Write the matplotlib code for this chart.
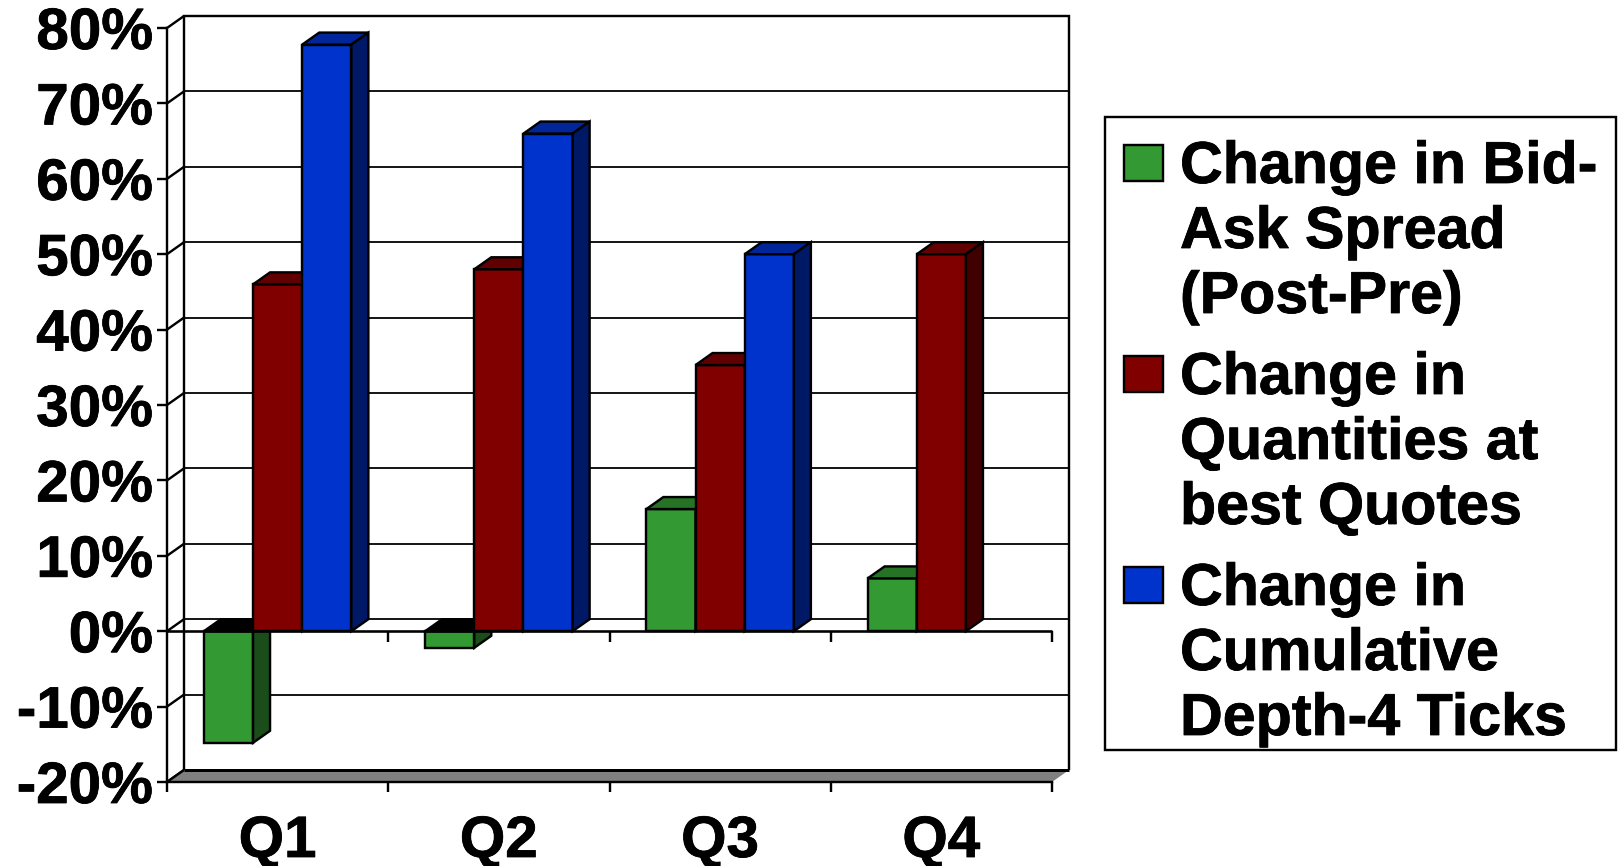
import numpy as np
import matplotlib
matplotlib.use("Agg")
import matplotlib.pyplot as plt
import matplotlib.patheffects as pe
from matplotlib.patches import Polygon, Rectangle

# Quarterly changes, in percent
quarters = ["Q1", "Q2", "Q3", "Q4"]
spread_change = [-14.8, -2.2, 16.2, 7]
quantity_change = [46, 48, 35.3, 50]
depth_change = [77.8, 66, 50, np.nan]
y_ticks = [-20, -10, 0, 10, 20, 30, 40, 50, 60, 70, 80]
series_names = [
    ["Change in Bid-", "Ask Spread", "(Post-Pre)"],
    ["Change in", "Quantities at", "best Quotes"],
    ["Change in", "Cumulative", "Depth-4 Ticks"],
]

# Front, top and side shades for each series
shades = [
    ("#339933", "#267326", "#1A4D1A"),
    ("#800000", "#600000", "#400000"),
    ("#0033CC", "#002699", "#001966"),
]

W, H = 1622, 866
DPI = 100
AXIS_FONT = 42
LEGEND_FONT = 42.6
plt.rcParams["font.family"] = ["Liberation Sans", "DejaVu Sans"]
plt.rcParams["font.weight"] = "bold"
px = 72 / DPI  # one pixel in points
heavy = [pe.withStroke(linewidth=0.8 * px, foreground="black")]

fig = plt.figure(figsize=(W / DPI, H / DPI), dpi=DPI, facecolor="white")

# Axes cover the front plane of the 3-D box
left, right, top, bottom = 167, 1052, 28, 782
ax = fig.add_axes([left / W, 1 - bottom / H, (right - left) / W, (bottom - top) / H])
ax.set_xlim(0, 4)
ax.set_ylim(-20, 80)
ax.patch.set_visible(False)

# Depth of the box expressed in data units
dx = 17 / ((right - left) / 4)
dy = 12 / ((bottom - top) / 100)

line = dict(color="black", solid_capstyle="butt", clip_on=False)
lw = 2.4 * px

# Back wall, left-wall diagonals and gridlines
for y in y_ticks:
    if y not in (-20, 80):
        ax.plot([dx, 4 + dx], [y + dy, y + dy], lw=1.8 * px, zorder=1, **line)
    ax.plot([0, dx], [y, y + dy], lw=lw, zorder=1, **line)
ax.plot([dx, dx, 4 + dx, 4 + dx], [-20 + dy, 80 + dy, 80 + dy, -20 + dy], lw=lw, zorder=1,
        solid_joinstyle="miter", **line)

# Grey floor
ax.add_patch(Polygon([(0, -20), (4, -20), (4 + dx, -20 + dy), (dx, -20 + dy)],
                     closed=True, facecolor="#808080", edgecolor="none", zorder=1.2, clip_on=False))
ax.plot([dx, 4 + dx], [-20 + dy, -20 + dy], lw=3 * px, zorder=1.3, **line)
ax.plot([0, dx], [-20, -20 + dy], lw=lw, zorder=1.3, **line)

# Clustered bars with their top and side faces
gap = 1 / 6
bar_w = (1 - 2 * gap) / 3
all_series = [spread_change, quantity_change, depth_change]
for s, values in enumerate(all_series):
    front, top_c, side_c = shades[s]
    z = 3 + s
    for q, v in enumerate(values):
        if np.isnan(v):
            continue
        x0 = q + gap + s * bar_w
        x1 = x0 + bar_w
        edge = dict(edgecolor="black", linewidth=lw, joinstyle="miter", clip_on=False, zorder=z)
        ax.bar(x0, v, width=bar_w, align="edge", facecolor=front, **edge)
        cap = max(v, 0)
        ax.add_patch(Polygon([(x0, cap), (x1, cap), (x1 + dx, cap + dy), (x0 + dx, cap + dy)],
                             closed=True, facecolor=top_c if v > 0 else "black", **edge))
        ax.add_patch(Polygon([(x1, 0), (x1 + dx, dy), (x1 + dx, v + dy), (x1, v)],
                             closed=True, facecolor=side_c, **edge))

# Category axis at zero with its downward ticks
ax.plot([0, 4], [0, 0], lw=2.6 * px, zorder=8, **line)
for q in range(1, 5):
    ax.plot([q, q], [0, -1.4], lw=lw, zorder=8, **line)

# Axis frame and tick labels
for name in ("top", "right"):
    ax.spines[name].set_visible(False)
for name in ("left", "bottom"):
    ax.spines[name].set_linewidth(lw)
    ax.spines[name].set_zorder(9)
ax.set_yticks(y_ticks)
ax.set_yticklabels([f"{t}%" for t in y_ticks], fontsize=AXIS_FONT, fontweight="bold", path_effects=heavy)
ax.tick_params(axis="y", length=10 * px, width=lw, pad=4 * px)
ax.set_xticks(range(5))
ax.set_xticklabels([])
ax.tick_params(axis="x", which="major", length=10 * px, width=lw)
ax.set_xticks(np.arange(4) + 0.5, minor=True)
ax.set_xticklabels(quarters, minor=True, fontsize=AXIS_FONT, fontweight="bold", path_effects=heavy)
ax.tick_params(axis="x", which="minor", length=0, pad=33 * px)

# Legend box, placed in figure pixels
def fx(x):
    return x / W

def fy(y):
    return 1 - y / H

fig.add_artist(Rectangle((fx(1105), fy(750)), (1616 - 1105) / W, (750 - 117) / H,
                         transform=fig.transFigure, facecolor="white",
                         edgecolor="black", linewidth=lw))
row_step = 211
line_step = 65
for s, lines in enumerate(series_names):
    y0 = 145 + s * row_step
    fig.add_artist(Rectangle((fx(1124), fy(y0 + 36)), 39 / W, 36 / H,
                             transform=fig.transFigure, facecolor=shades[s][0],
                             edgecolor="black", linewidth=lw))
    for i, text in enumerate(lines):
        fig.text(fx(1180), fy(183 + s * row_step + i * line_step), text,
                 fontsize=LEGEND_FONT, fontweight="bold", ha="left", va="baseline", path_effects=heavy)

fig.savefig("out.png", dpi=DPI, facecolor="white")
